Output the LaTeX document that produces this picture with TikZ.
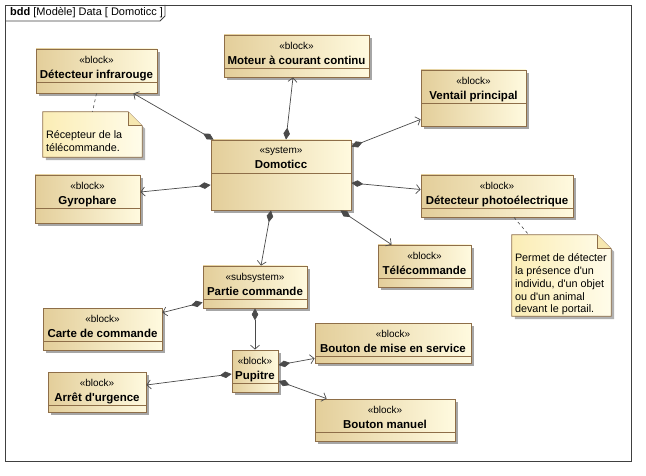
\documentclass[tikz,border=0pt]{standalone}
\usepackage{fontspec}
\setmainfont{Liberation Sans}
\definecolor{BlkLeft}{HTML}{E3CE9A}
\definecolor{BlkRight}{HTML}{FFFADF}
\definecolor{BlkLine}{HTML}{8E6E48}
\definecolor{NoteLeft}{HTML}{FBEDB5}
\definecolor{NoteRight}{HTML}{FFFCEA}
\definecolor{Link}{HTML}{4A4A4A}
\definecolor{Frame}{HTML}{404040}
\usetikzlibrary{shadows,arrows.meta}

\newcommand\stereo[1]{{\fontsize{10}{15}\selectfont\mdseries «#1»}}
\newcommand\apos{\textquotesingle}

\begin{document}
\begin{tikzpicture}
    [x=1pt, y=-1pt,
     block/.style={draw=BlkLine, line width=0.8pt, left color=BlkLeft, right color=BlkRight, inner sep=0pt,
        drop shadow={shadow xshift=3pt, shadow yshift=-3pt, fill=black!35, opacity=1},
        path picture={\draw[BlkLine, line width=0.8pt]
            ([yshift=-33pt]path picture bounding box.north west) -- ([yshift=-33pt]path picture bounding box.north east);}},
     title/.style={anchor=north, align=center, inner sep=0pt, yshift=-7pt,
        font=\fontsize{11.5}{15}\selectfont\bfseries},
     notebox/.style={inner sep=0pt},
     notetxt/.style={anchor=north west, align=left, inner sep=0pt, font=\fontsize{10.8}{12.7}\selectfont},
     part/.style={draw=Link, line width=0.7pt, {Diamond[length=12pt,width=6.5pt]}-{Straight Barb[length=4pt,width=9pt]}},
     notelink/.style={draw=Link, line width=0.6pt, dash pattern=on 3pt off 3pt}]

    \useasboundingbox (0,0) rectangle (646,476);

    % frame
    \draw[Frame, line width=0.8pt] (5,5) rectangle (631,461);
    \draw[Frame, line width=0.8pt] (5,21) -- (160,21) -- (165,16) -- (165,5);
    \node[anchor=west, inner sep=0pt, font=\fontsize{11}{13}\selectfont] (hdr) at (10,13)
        {\textbf{bdd} [Modèle] Data [ Domoticc ]};

    % notes
    \node[notebox, minimum width=99pt, minimum height=45pt] (nIR) at (92.5,134.5) {};
    \node[notebox, minimum width=99pt, minimum height=81pt] (nPE) at (561.5,275.5) {};
    \foreach \n in {nIR,nPE}{
        \shade[left color=NoteLeft, right color=NoteRight, draw=BlkLine, line width=0.8pt,
            drop shadow={shadow xshift=3pt, shadow yshift=-3pt, fill=black!30, opacity=1}]
            (\n.south west) -- (\n.north west) -- ([xshift=-14pt]\n.north east)
            -- ([yshift=-14pt]\n.north east) -- (\n.south east) -- cycle;
        \draw[BlkLine, line width=0.8pt, fill=NoteLeft!80!BlkLeft]
            ([xshift=-14pt]\n.north east) -- ([xshift=-14pt,yshift=-14pt]\n.north east) -- ([yshift=-14pt]\n.north east);
    }
    \node[notetxt] (tIR) at ([shift={(3pt,-19pt)}]nIR.north west) {Récepteur de la\\télécommande.};
    \node[notetxt] (tPE) at ([shift={(3pt,-19pt)}]nPE.north west)
        {Permet de détecter\\la présence d\apos un\\individu, d\apos un objet\\ou d\apos un animal\\devant le portail.};

    % blocks
    \node[block, minimum width=140pt, minimum height=70pt, label={[title]north:{\stereo{system}\\Domoticc}}] (dom) at (281,175) {};
    \node[block, minimum width=121pt, minimum height=44pt, label={[title]north:{\stereo{block}\\Détecteur infrarouge}}] (infra) at (96.5,71) {};
    \node[block, minimum width=145pt, minimum height=42pt, label={[title]north:{\stereo{block}\\Moteur à courant continu}}] (moteur) at (296.5,56) {};
    \node[block, minimum width=105pt, minimum height=56pt, label={[title]north:{\stereo{block}\\Ventail principal}}] (ventail) at (473.5,98) {};
    \node[block, minimum width=152pt, minimum height=42pt, label={[title]north:{\stereo{block}\\Détecteur photoélectrique}}] (photo) at (497,196) {};
    \node[block, minimum width=105pt, minimum height=48pt, label={[title]north:{\stereo{block}\\Gyrophare}}] (gyro) at (87.5,199) {};
    \node[block, minimum width=93pt, minimum height=42pt, label={[title]north:{\stereo{block}\\Télécommande}}] (tele) at (424.5,266) {};
    \node[block, minimum width=104pt, minimum height=42pt, label={[title]north:{\stereo{subsystem}\\Partie commande}}] (partie) at (255,287) {};
    \node[block, minimum width=119pt, minimum height=42pt, label={[title]north:{\stereo{block}\\Carte de commande}}] (carte) at (102.5,329) {};
    \node[block, minimum width=46pt, minimum height=42pt, label={[title]north:{\stereo{block}\\Pupitre}}] (pupitre) at (255,371) {};
    \node[block, minimum width=156pt, minimum height=40pt, label={[title]north:{\stereo{block}\\Bouton de mise en service}}] (mise) at (393,343) {};
    \node[block, minimum width=140pt, minimum height=42pt, label={[title]north:{\stereo{block}\\Bouton manuel}}] (manuel) at (385,420) {};
    \node[block, minimum width=98pt, minimum height=40pt, label={[title]north:{\stereo{block}\\Arrêt d\apos urgence}}] (arret) at (97,392) {};

    % note links
    \draw[notelink] (infra.south) -- (nIR.north);
    \draw[notelink] ([xshift=17pt]photo.south) -- ([xshift=17pt]nPE.north west);

    % composition
    \draw[part] ([xshift=3pt]dom.north west) -- ([xshift=-24pt]infra.south east);
    \draw[part] ([xshift=5pt]dom.north) -- ([xshift=-3.5pt]moteur.south);
    \draw[part] ([yshift=-7pt]dom.north east) -- ([yshift=7pt]ventail.south west);
    \draw[part] ([yshift=-8pt]dom.east) -- ([yshift=6.5pt]photo.west);
    \draw[part] ([yshift=-10pt]dom.west) -- ([yshift=7pt]gyro.east);
    \draw[part] ([xshift=-10pt]dom.south) -- ([xshift=6pt]partie.north);
    \draw[part] ([xshift=-11pt]dom.south east) -- ([xshift=14pt]tele.north west);
    \draw[part] ([yshift=6pt]partie.south west) -- ([yshift=-5pt]carte.north east);
    \draw[part] (partie.south) -- (pupitre.north);
    \draw[part] ([yshift=-3pt]pupitre.west) -- ([yshift=7pt]arret.east);
    \draw[part] ([yshift=6pt]pupitre.east) -- ([yshift=5pt]mise.south west);
    \draw[part] ([yshift=-10pt]pupitre.east) -- ([xshift=12pt]manuel.north west);
\end{tikzpicture}
\end{document}
